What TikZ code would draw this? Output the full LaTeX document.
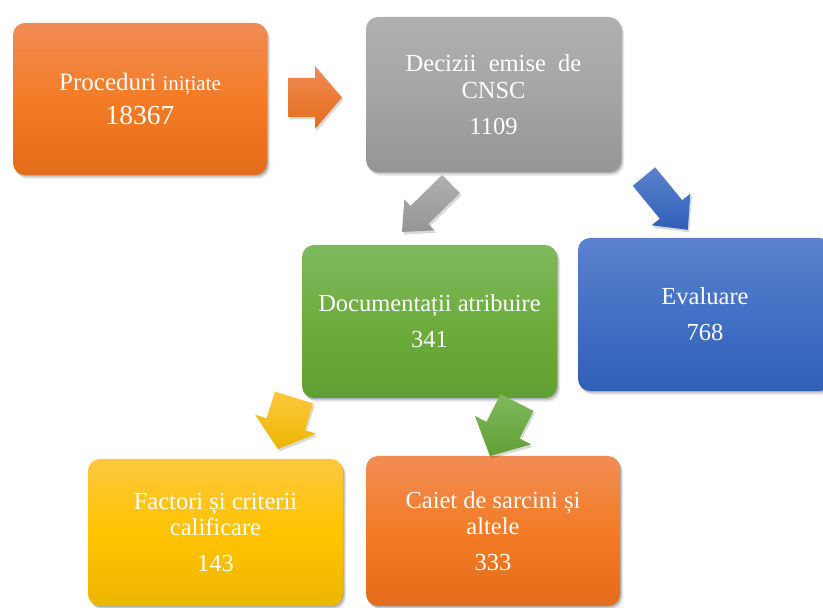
\documentclass[tikz,border=0pt]{standalone}
\usepackage{fontspec}
\setmainfont{Liberation Serif}
\usetikzlibrary{shadows}
\definecolor{orT}{HTML}{F08C55}\definecolor{orM}{HTML}{F47C26}\definecolor{orB}{HTML}{E46C1A}
\definecolor{grT}{HTML}{B0B0B0}\definecolor{grM}{HTML}{A5A5A5}\definecolor{grB}{HTML}{959595}
\definecolor{gnT}{HTML}{80B960}\definecolor{gnM}{HTML}{6DAD3E}\definecolor{gnB}{HTML}{60A032}
\definecolor{blT}{HTML}{5B82CD}\definecolor{blM}{HTML}{4270C4}\definecolor{blB}{HTML}{305FB8}
\definecolor{yeT}{HTML}{FFC83F}\definecolor{yeM}{HTML}{FFC300}\definecolor{yeB}{HTML}{EDB600}
\newcommand{\blockarr}[9]{%
  \coordinate (#1) at (#2,#3);
  \begin{scope}[shift={(#2+1.5,#3-2.5)}, rotate=#4]
    \fill[black, opacity=0.15] (0,-#6) -- (#5-#8,-#6) -- (#5-#8,-#7) -- (#5,0) -- (#5-#8,#7) -- (#5-#8,#6) -- (0,#6) -- cycle;
  \end{scope}
  \begin{scope}[shift={(#1)}, rotate=#4]
    \path[#9] (0,-#6) -- (#5-#8,-#6) -- (#5-#8,-#7) -- (#5,0) -- (#5-#8,#7) -- (#5-#8,#6) -- (0,#6) -- cycle;
  \end{scope}}
\tikzset{
  box/.style={rounded corners=12pt, minimum width=255pt, text=white, align=center,
    font=\fontsize{24.5}{26.5}\selectfont,
    drop shadow={shadow xshift=3pt, shadow yshift=-4pt, opacity=0.08, fill=black},
    drop shadow={shadow xshift=2pt, shadow yshift=-2.5pt, opacity=0.12, fill=black},
    drop shadow={shadow xshift=1pt, shadow yshift=-1.2pt, opacity=0.15, fill=black}},
  orbox/.style={box, top color=orT, bottom color=orB, middle color=orM},
  grbox/.style={box, top color=grT, bottom color=grB, middle color=grM},
  gnbox/.style={box, top color=gnT, bottom color=gnB, middle color=gnM},
  blbox/.style={box, top color=blT, bottom color=blB, middle color=blM},
  yebox/.style={box, top color=yeT, bottom color=yeB, middle color=yeM},
}
\begin{document}
\begin{tikzpicture}[x=1pt,y=1pt]
\useasboundingbox (0,0) rectangle (823,608);
\clip (0,0) rectangle (823,608);
\node[orbox, minimum width=254pt, minimum height=152pt] (proc) at (140,509)
  {{\fontsize{25}{26.5}\selectfont Proceduri} {\fontsize{21}{26.5}\selectfont inițiate}\\[8pt]
   {\fontsize{27.5}{28}\selectfont 18367}};
\node[grbox, minimum height=155pt] (cnsc) at (493.5,513.5)
  {Decizii\ \ emise\ \ de\\ CNSC\\[9.5pt] 1109};
\node[gnbox, minimum height=153pt] (doc) at (429.5,286.5)
  {Documentații atribuire\\[9.5pt] 341};
\node[blbox, minimum width=254pt, minimum height=153pt] (eval) at (705,293.5)
  {Evaluare\\[9.5pt] 768};
\node[yebox, minimum height=147pt] (fact) at (215.5,75.5)
  {Factori și criterii\\ calificare\\[9pt] 143};
\node[orbox, minimum width=254pt, minimum height=150pt] (caiet) at (493,77)
  {Caiet de sarcini și\\ altele\\[9pt] 333};
% block arrows: name, x, y, angle, length, shaft half width, head half width, head length, style
\blockarr{a1}{288}{510.5}{0}{54}{19.5}{31.5}{27}{top color=orT, bottom color=orB}
\blockarr{a2}{451}{424}{224.4}{68.6}{12.7}{21.6}{24.4}{top color=grT, bottom color=grB}
\blockarr{a3}{644}{431.5}{-50.6}{69}{14.5}{25}{26.4}{top color=blT, bottom color=blB}
\blockarr{a4}{294}{210.5}{-107.3}{54}{20}{32}{26}{top color=yeT, bottom color=yeB}
\blockarr{a5}{517}{205.5}{-116.8}{60}{18.5}{31.5}{29}{top color=gnT, bottom color=gnB}
\end{tikzpicture}
\end{document}
